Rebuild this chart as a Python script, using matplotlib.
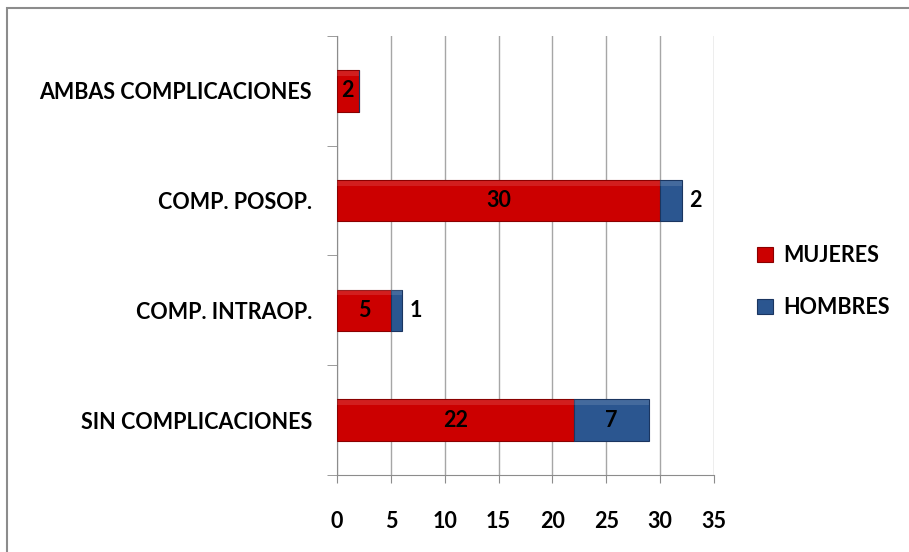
import matplotlib.pyplot as plt
from matplotlib.patches import Rectangle

# Data
categorias = ["SIN COMPLICACIONES", "COMP. INTRAOP.", "COMP. POSOP.", "AMBAS COMPLICACIONES"]
mujeres = [22, 5, 30, 2]
hombres = [7, 1, 2, 0]
series = ["MUJERES", "HOMBRES"]

rojo = '#CC0000'
azul = '#2B5690'

plt.rcParams['font.family'] = ['Lato', 'DejaVu Sans']
plt.rcParams['font.weight'] = 'bold'
fs = 15.5

fig = plt.figure(figsize=(9.09, 5.52), dpi=100)
ax = fig.add_axes([0.3707, 0.1395, 0.4148, 0.7953])

# outer frame around the chart area
fig.patches.append(Rectangle((0.008, -0.05), 1.2, 1.036, transform=fig.transFigure,
                             fill=False, edgecolor='#8c8c8c', linewidth=1.5))

y = list(range(len(categorias)))
h = 0.38
b1 = ax.barh(y, mujeres, height=h, color=rojo, edgecolor='#8a0000', linewidth=0.8,
             label=series[0], zorder=3)
b2 = ax.barh(y, hombres, left=mujeres, height=h, color=azul, edgecolor='#1a3560',
             linewidth=0.8, label=series[1], zorder=3)

# soft highlight strip on top of each bar
for bars in (b1, b2):
    for r in bars:
        if r.get_width() > 0:
            ax.add_patch(Rectangle((r.get_x(), r.get_y() + r.get_height() * 0.86),
                                   r.get_width(), r.get_height() * 0.12,
                                   color='white', alpha=0.12, lw=0, zorder=4))

# value labels
for i in y:
    if mujeres[i] > 0:
        ax.text(mujeres[i] / 2, i, str(mujeres[i]), ha='center', va='center',
                fontsize=fs, fontweight='bold', zorder=5)
    if hombres[i] > 0:
        if hombres[i] >= 3:
            ax.text(mujeres[i] + hombres[i] / 2, i, str(hombres[i]), ha='center',
                    va='center', fontsize=fs, fontweight='bold', zorder=5)
        else:
            ax.text(mujeres[i] + hombres[i] + 1.3, i, str(hombres[i]), ha='center',
                    va='center', fontsize=fs, fontweight='bold', zorder=5)

ax.set_xlim(0, 35)
ax.set_ylim(-0.5, len(categorias) - 0.5)
ax.set_xticks(range(0, 36, 5))
ax.set_yticks(y)
ax.set_yticklabels(categorias)
ax.set_yticks([k - 0.5 for k in range(len(categorias) + 1)], minor=True)
ax.tick_params(axis='y', which='major', length=0, pad=18, labelsize=fs)
ax.tick_params(axis='y', which='minor', length=7, color='#8c8c8c')
ax.tick_params(axis='x', length=6, color='#8c8c8c', pad=20, labelsize=fs)

ax.grid(axis='x', color='#a6a6a6', linewidth=1, zorder=0)
for s in ('top', 'right'):
    ax.spines[s].set_visible(False)
ax.spines['left'].set_color('#8c8c8c')
ax.spines['bottom'].set_color('#8c8c8c')

leg = fig.legend(handles=[b1, b2], loc='center left', bbox_to_anchor=(0.812, 0.49),
                 frameon=False, fontsize=fs, handlelength=0.7, handleheight=0.7,
                 labelspacing=1.45, handletextpad=0.5)

fig.savefig('out.png', dpi=100)
plt.close(fig)
